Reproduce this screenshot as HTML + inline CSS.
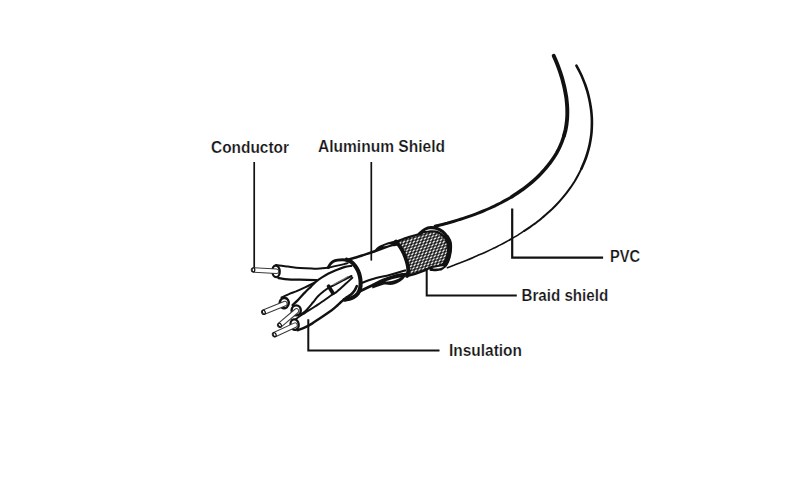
<!DOCTYPE html>
<html><head><meta charset="utf-8"><style>
html,body{margin:0;padding:0;background:#fff;}
svg{display:block;}
text{font-family:"Liberation Sans",sans-serif;font-weight:bold;font-size:15.6px;fill:#141414;stroke:#fff;stroke-width:0.2px;}
</style></head><body>
<svg width="800" height="480" viewBox="0 0 800 480">
<rect width="800" height="480" fill="#fff"/>
<defs>
<pattern id="braid" patternUnits="userSpaceOnUse" width="10" height="10" patternTransform="matrix(0.375,-0.11,-0.13,0.33,0,0)">
<rect width="10" height="10" fill="#141414"/>
<circle cx="5" cy="5" r="3.6" fill="#e8e8e8"/>
</pattern>
</defs>
<path d="M553.7,55.7C554.1,56.6 555.3,59.4 556.1,61.3C556.9,63.2 557.7,65.2 558.4,67.2C559.1,69.1 559.8,71.1 560.5,73.1C561.1,75.2 561.8,77.2 562.4,79.3C562.9,81.3 563.5,83.4 564,85.5C564.5,87.6 564.9,89.7 565.3,91.8C565.7,93.9 566.1,96 566.4,98.1C566.6,100.3 566.9,102.4 567,104.5C567.2,106.6 567.3,108.8 567.3,110.9C567.4,113 567.3,115.1 567.2,117.2C567.1,119.3 566.9,121.4 566.6,123.5C566.4,125.6 566,127.6 565.6,129.7C565.1,131.7 564.6,133.8 564,135.8C563.4,137.8 562.7,139.7 562,141.7C561.2,143.7 560.4,145.6 559.5,147.5C558.6,149.4 557.6,151.2 556.6,153.1C555.5,154.9 554.4,156.7 553.2,158.4C552.1,160.2 550.8,161.9 549.5,163.6C548.3,165.3 546.9,166.9 545.5,168.5C544.2,170.1 542.7,171.7 541.3,173.2C539.8,174.7 538.4,176.2 536.8,177.7C535.3,179.1 533.8,180.5 532.2,181.9C530.6,183.3 529,184.6 527.3,185.9C525.7,187.2 524,188.5 522.3,189.7C520.6,191 518.8,192.2 517.1,193.3C515.3,194.5 513.6,195.6 511.8,196.7C510,197.8 508.1,198.9 506.3,199.9C504.4,201 502.6,202 500.7,203C498.8,203.9 496.9,204.9 495,205.8C493.1,206.7 491.1,207.6 489.2,208.5C487.3,209.4 485.3,210.2 483.3,211C481.4,211.8 479.4,212.6 477.4,213.4C475.4,214.2 473.4,214.9 471.4,215.6C469.4,216.3 467.4,217 465.4,217.7C463.4,218.4 461.3,219 459.3,219.6C457.3,220.3 455.3,220.9 453.3,221.5C451.2,222.1 449.2,222.6 447.2,223.2C445.2,223.7 443.2,224.3 441.2,224.8C439.1,225.3 436.1,226 435.1,226.3L447.4,267.7C448.5,267.3 451.7,266.1 453.8,265.3C456,264.4 458.1,263.6 460.3,262.8C462.5,261.9 464.6,261.1 466.8,260.2C469,259.3 471.2,258.4 473.3,257.5C475.5,256.5 477.7,255.6 479.9,254.6C482.1,253.7 484.2,252.7 486.4,251.7C488.6,250.7 490.8,249.7 492.9,248.6C495.1,247.6 497.2,246.5 499.4,245.4C501.5,244.3 503.6,243.2 505.8,242C507.9,240.9 510,239.7 512.1,238.5C514.1,237.3 516.2,236.1 518.3,234.8C520.3,233.5 522.3,232.3 524.3,230.9C526.3,229.6 528.3,228.3 530.3,226.9C532.2,225.5 534.2,224.1 536.1,222.7C538,221.2 539.9,219.8 541.7,218.2C543.5,216.7 545.4,215.2 547.1,213.6C548.9,212 550.7,210.4 552.4,208.8C554.1,207.1 555.7,205.4 557.3,203.7C559,202 560.6,200.2 562.1,198.4C563.6,196.6 565.1,194.8 566.6,192.9C568,191 569.4,189.1 570.8,187.2C572.1,185.2 573.4,183.2 574.7,181.2C575.9,179.2 577.1,177.1 578.2,175C579.4,172.9 580.4,170.8 581.4,168.7C582.5,166.5 583.4,164.3 584.3,162.1C585.2,159.9 586,157.7 586.7,155.5C587.4,153.2 588.1,150.9 588.7,148.6C589.3,146.4 589.8,144.1 590.2,141.7C590.7,139.4 591,137.1 591.3,134.7C591.6,132.4 591.7,130 591.8,127.6C591.9,125.3 592,122.9 591.9,120.5C591.9,118.1 591.7,115.8 591.5,113.4C591.3,111 591,108.6 590.6,106.3C590.3,103.9 589.8,101.5 589.3,99.2C588.8,96.9 588.2,94.5 587.6,92.2C586.9,89.9 586.2,87.6 585.4,85.3C584.6,83 583.7,80.8 582.8,78.6C581.9,76.3 580.9,74.1 579.8,72C578.7,69.8 577,66.7 576.4,65.6Z" fill="#fff"/>
<path d="M553.7,55.7C554.1,56.6 555.3,59.4 556.1,61.3C556.9,63.2 557.7,65.2 558.4,67.2C559.1,69.1 559.8,71.1 560.5,73.1C561.1,75.2 561.8,77.2 562.4,79.3C562.9,81.3 563.5,83.4 564,85.5C564.5,87.6 564.9,89.7 565.3,91.8C565.7,93.9 566.1,96 566.4,98.1C566.6,100.3 566.9,102.4 567,104.5C567.2,106.6 567.3,108.8 567.3,110.9C567.4,113 567.3,115.1 567.2,117.2C567.1,119.3 566.9,121.4 566.6,123.5C566.4,125.6 566,127.6 565.6,129.7C565.1,131.7 564.3,134.7 564,135.8" fill="none" stroke="#111" stroke-width="3.9" stroke-linecap="round"/>
<path d="M564,135.8C563.7,136.8 562.7,139.7 562,141.7C561.2,143.7 560.4,145.6 559.5,147.5C558.6,149.4 557.6,151.2 556.6,153.1C555.5,154.9 554.4,156.7 553.2,158.4C552.1,160.2 550.8,161.9 549.5,163.6C548.3,165.3 546.9,166.9 545.5,168.5C544.2,170.1 542.7,171.7 541.3,173.2C539.8,174.7 538.4,176.2 536.8,177.7C535.3,179.1 533.8,180.5 532.2,181.9C530.6,183.3 529,184.6 527.3,185.9C525.7,187.2 524,188.5 522.3,189.7C520.6,191 518.8,192.2 517.1,193.3C515.3,194.5 512.6,196.2 511.8,196.7" fill="none" stroke="#111" stroke-width="3.5" stroke-linecap="round"/>
<path d="M511.8,196.7C510.8,197.3 508.1,198.9 506.3,199.9C504.4,201 502.6,202 500.7,203C498.8,203.9 496.9,204.9 495,205.8C493.1,206.7 491.1,207.6 489.2,208.5C487.3,209.4 485.3,210.2 483.3,211C481.4,211.8 479.4,212.6 477.4,213.4C475.4,214.2 473.4,214.9 471.4,215.6C469.4,216.3 467.4,217 465.4,217.7C463.4,218.4 461.3,219 459.3,219.6C457.3,220.3 455.3,220.9 453.3,221.5C451.2,222.1 449.2,222.6 447.2,223.2C445.2,223.7 443.2,224.3 441.2,224.8C439.1,225.3 436.1,226 435.1,226.3" fill="none" stroke="#111" stroke-width="3.0" stroke-linecap="round"/>
<path d="M576.4,65.6C577,66.7 578.7,69.8 579.8,72C580.9,74.1 581.9,76.3 582.8,78.6C583.7,80.8 584.6,83 585.4,85.3C586.2,87.6 586.9,89.9 587.6,92.2C588.2,94.5 588.8,96.9 589.3,99.2C589.8,101.5 590.3,103.9 590.6,106.3C591,108.6 591.3,111 591.5,113.4C591.7,115.8 591.9,118.1 591.9,120.5C592,122.9 591.9,125.3 591.8,127.6C591.7,130 591.6,132.4 591.3,134.7C591,137.1 590.7,139.4 590.2,141.7C589.8,144.1 589.3,146.4 588.7,148.6C588.1,150.9 587.4,153.2 586.7,155.5C586,157.7 585.2,159.9 584.3,162.1C583.4,164.3 581.9,167.6 581.4,168.7" fill="none" stroke="#111" stroke-width="2.6" stroke-linecap="round"/>
<path d="M581.4,168.7C580.9,169.7 579.4,172.9 578.2,175C577.1,177.1 575.9,179.2 574.7,181.2C573.4,183.2 572.1,185.2 570.8,187.2C569.4,189.1 568,191 566.6,192.9C565.1,194.8 563.6,196.6 562.1,198.4C560.6,200.2 559,202 557.3,203.7C555.7,205.4 554.1,207.1 552.4,208.8C550.7,210.4 548.9,212 547.1,213.6C545.4,215.2 543.5,216.7 541.7,218.2C539.9,219.8 538,221.2 536.1,222.7C534.2,224.1 532.2,225.5 530.3,226.9C528.3,228.3 525.3,230.3 524.3,230.9" fill="none" stroke="#111" stroke-width="2.0" stroke-linecap="round"/>
<path d="M524.3,230.9C523.3,231.6 520.3,233.5 518.3,234.8C516.2,236.1 514.1,237.3 512.1,238.5C510,239.7 507.9,240.9 505.8,242C503.6,243.2 501.5,244.3 499.4,245.4C497.2,246.5 495.1,247.6 492.9,248.6C490.8,249.7 488.6,250.7 486.4,251.7C484.2,252.7 482.1,253.7 479.9,254.6C477.7,255.6 475.5,256.5 473.3,257.5C471.2,258.4 469,259.3 466.8,260.2C464.6,261.1 462.5,261.9 460.3,262.8C458.1,263.6 456,264.4 453.8,265.3C451.7,266.1 448.5,267.3 447.4,267.7" fill="none" stroke="#111" stroke-width="1.6" stroke-linecap="round"/>
<path d="M254.2,162V268" stroke="#111" stroke-width="1.7" fill="none"/>
<path d="M512.2,208.6V257.6H603.1" stroke="#111" stroke-width="2.2" fill="none"/>
<path d="M347.7,259.8 L375.4,251 L398.7,242.3 L407,262 L403,275 L360.8,286 L356,296Z" fill="#fff"/>
<path d="M347.7,259.8C350.1,259.1 357.4,257 362,255.5C366.6,254 369.3,253.2 375.4,251C381.5,248.8 394.8,243.8 398.7,242.3" fill="none" stroke="#111" stroke-width="2.4"/>
<path d="M360.8,283.4C362.7,282.7 367.2,280.6 372,279.2C376.8,277.8 384.8,276.2 389.5,275C394.2,273.8 397.2,272.8 400,272C402.8,271.2 405,270.5 406,270.2" fill="none" stroke="#111" stroke-width="2.1"/>
<path d="M359.4,291.6C361.5,290.6 367.9,287.4 372,285.4C376.1,283.4 379.8,281.4 383.7,279.8C387.6,278.2 392.2,276.7 395.3,275.8C398.4,274.9 400.1,274.7 402,274.4C403.9,274.1 406.2,274.1 407,274" fill="none" stroke="#111" stroke-width="2.8"/>
<path d="M372,286 C378,283 383,280 389,278.3 C395,276.6 400,275.2 405,274.5 L405.5,276 C403.5,280 398,283.5 392.4,284.8 C389,285.3 387,284 384,284.6 C380,285.6 376,287.5 372.5,288.6Z" fill="#111"/>
<path d="M385,281.6 C389,280 394,278.4 401,277.2 C398,279.3 393,280.8 388,281.6Z" fill="#fff"/>
<path d="M374,251.8 C375.5,249 377,247 380,245.6 C385,243.4 390,241.6 395,240.6 L399.5,239.9 L399,244.5 C397,246 394.5,246.3 392.5,246.3 C389,246.6 385,247.6 382.5,248.5 C379,249.7 376.5,251 374.5,252.8Z" fill="#111"/>
<path d="M383,246.4 C385.5,245.3 388.5,244.4 391.5,244.1 C389.5,245.1 386.5,246 383,246.4Z" fill="#fff"/>
<path d="M419.5,233.8C420.8,231.2 423.1,230.3 425,229.3C426.9,228.3 428.9,227.8 430.9,227.7C432.9,227.6 435.1,227.8 437,228.5C438.9,229.2 440.8,230.2 442.5,231.6C444.2,233 445.8,235.1 447,236.8C448.2,238.5 449.1,240.2 449.6,242C450.1,243.8 450.2,245.4 450.1,247.5C450.1,249.6 449.8,252.2 449.3,254.5C448.9,256.8 448.2,259.1 447.4,261C446.6,262.9 445.7,264.5 444.6,265.7C443.5,266.9 442.2,267.7 440.8,268.4C439.4,269.1 437.6,269.5 436,269.7C434.4,269.9 433,269.7 431,269.4C429,269.1 426,269.9 424,268C422,266.1 420.1,261.8 419,258C417.9,254.2 417.4,249 417.5,245C417.6,241 418.2,236.4 419.5,233.8Z" fill="#fff"/>
<path d="M396,241.6C397.8,241 404.6,238.5 408,237.4C411.4,236.3 416.1,235 418.6,234.2C421.1,233.4 422.8,232.4 424.5,232C426.2,231.6 428.3,231.4 430,231.3C431.7,231.2 434.3,231.2 436,231.6C437.7,232 440,233.1 441.5,234.3C443,235.5 445,237.6 446,239.6C447,241.6 448,245.2 448.2,247.5C448.4,249.8 447.8,253 447.4,255C446.9,257 446.1,259.5 445.2,261C444.3,262.5 442.8,264.2 441.5,265C440.2,265.8 438,266.3 436.5,266.6C435,266.9 433.4,266.4 431.5,267C429.6,267.6 426.3,269.8 424,270.8C421.7,271.8 418.6,272.8 416,273.6C413.4,274.4 408.4,275.6 407,276C407.2,275.2 408.1,273.1 408.2,271.5C408.3,269.9 408.2,268.3 407.9,266.5C407.6,264.7 407.1,262.7 406.4,260.5C405.7,258.3 404.8,255.8 403.8,253.5C402.8,251.2 401.5,249 400.2,247C398.9,245 396.7,242.5 396,241.6Z" fill="url(#braid)" stroke="#111" stroke-width="2.2" stroke-linejoin="round"/>
<path d="M407,276C407.2,275.2 408.1,273.1 408.2,271.5C408.3,269.9 408.2,268.3 407.9,266.5C407.6,264.7 407.1,262.7 406.4,260.5C405.7,258.3 404.8,255.8 403.8,253.5C402.8,251.2 401.5,249 400.2,247C398.9,245 396.7,242.5 396,241.6" fill="none" stroke="#111" stroke-width="3.8" stroke-linecap="round"/>
<path d="M419.5,233.8C420.4,233.1 423.1,230.3 425,229.3C426.9,228.3 428.9,227.8 430.9,227.7C432.9,227.6 435.1,227.8 437,228.5C438.9,229.2 440.8,230.2 442.5,231.6C444.2,233 445.8,235.1 447,236.8C448.2,238.5 449.1,240.2 449.6,242C450.1,243.8 450.2,245.4 450.1,247.5C450.1,249.6 449.8,252.2 449.3,254.5C448.9,256.8 448.2,259.1 447.4,261C446.6,262.9 445.7,264.5 444.6,265.7C443.5,266.9 442.2,267.7 440.8,268.4C439.4,269.1 437.6,269.5 436,269.7C434.4,269.9 431.8,269.4 431,269.4" fill="none" stroke="#111" stroke-width="3.2" stroke-linecap="round"/>
<path d="M447,236.8C447.4,237.7 449.1,240.2 449.6,242C450.1,243.8 450.2,245.4 450.1,247.5C450.1,249.6 449.8,252.2 449.3,254.5C448.9,256.8 448.2,259.1 447.4,261C446.6,262.9 445.7,264.5 444.6,265.7C443.5,266.9 441.4,267.9 440.8,268.4" fill="none" stroke="#111" stroke-width="4" stroke-linecap="round"/>
<path d="M424.8,230.9 C426.5,229.8 429,229.4 431.5,229.5 C429.5,230.4 427,230.9 424.8,230.9Z" fill="#fff"/>
<path d="M432.4,268.3 C435.5,267.3 439.5,266.4 444,266.2 C442,267.9 437.5,269.2 432.4,268.3Z" fill="#fff"/>
<path d="M279,265.5 L300,268 L316.6,268.5 L330,265.5 L348,262 L356,270 L350,300 L340,304 L320,317 L299.4,328.3 L291,320 L281.5,297.5 L279,278Z" fill="#fff"/>
<path d="M276.2,265.1C278.2,265.4 284,266.1 288,266.6C292,267.1 296,267.7 300,268C304,268.3 308.7,268.5 312,268.6C315.3,268.7 317.2,268.6 320,268.4C322.8,268.2 327.5,267.7 329,267.6" fill="none" stroke="#111" stroke-width="2.0" stroke-linecap="round" stroke-linejoin="round"/>
<path d="M278.4,278C280,278.2 284.4,279 288,279.3C291.6,279.6 295.2,279.5 300,279.6C304.8,279.8 313.8,280.1 316.6,280.2" fill="none" stroke="#111" stroke-width="2.3" stroke-linecap="round" stroke-linejoin="round"/>
<path d="M281.5,297.5C282.9,296.9 287.6,294.6 290,293.6C292.4,292.6 293.5,292.4 296,291.4C298.5,290.3 302,288.7 305,287.3C308,285.9 312.5,283.7 314,283" fill="none" stroke="#111" stroke-width="2.0" stroke-linecap="round" stroke-linejoin="round"/>
<path d="M292.5,305C293.4,304.2 295.8,302.2 297.9,300.1C300,298 302.8,294.6 305,292.4C307.2,290.1 309.2,288.4 311,286.6C312.8,284.8 314.2,283.1 316,281.6C317.8,280.1 319.9,278.7 322,277.4C324.1,276.1 325.8,275 328.5,273.6C331.2,272.2 335.8,270.3 338.5,269.2C341.2,268.1 342.8,267.5 345,266.9C347.2,266.3 350.4,266 351.5,265.8" fill="none" stroke="#111" stroke-width="2.2" stroke-linecap="round" stroke-linejoin="round"/>
<path d="M300,314.5C300.8,314 302.9,313.5 305,311.5C307.1,309.5 310.7,305.1 312.9,302.5C315.1,299.9 316.1,298.1 318,296.2C319.9,294.3 322.1,292.5 324,291C325.9,289.5 327.5,288.4 329.5,287.3C331.5,286.2 333.6,285.4 336,284.1C338.4,282.9 341.5,281.2 344.1,279.8C346.7,278.4 350.3,276.6 351.5,276" fill="none" stroke="#111" stroke-width="2.0" stroke-linecap="round" stroke-linejoin="round"/>
<path d="M295.5,319.5C296.2,318.9 298.4,317.1 300,316C301.6,314.9 302.5,314.4 305,312.8C307.5,311.2 311.7,308.7 315,306.5C318.3,304.3 322.1,301.8 325,299.8C327.9,297.8 330.7,295.6 332.5,294.4C334.3,293.2 334.7,293.4 336,292.4C337.3,291.4 338.9,289.8 340.5,288.4C342.1,287 343.4,285.9 345.4,284.1C347.4,282.3 351.1,278.9 352.3,277.8" fill="none" stroke="#111" stroke-width="2.0" stroke-linecap="round" stroke-linejoin="round"/>
<path d="M297.5,330.2C298.8,329.7 302.6,328.5 305,327.4C307.4,326.3 309.5,325.1 312,323.6C314.5,322.1 316.7,320.4 320,318.2C323.3,316 329,312.1 331.7,310.2C334.4,308.3 334.4,308 336,306.6C337.6,305.2 339.3,303.5 341,302C342.7,300.5 345.5,298.3 346.4,297.6" fill="none" stroke="#111" stroke-width="2.4" stroke-linecap="round" stroke-linejoin="round"/>
<path d="M333.5,284.6C334.6,284 337.6,282.3 340,281C342.4,279.7 346.7,277.3 348,276.6" fill="none" stroke="#777" stroke-width="1.1" stroke-linecap="round" stroke-linejoin="round"/>
<path d="M328.6,286.3 L333,293.2" stroke="#111" stroke-width="3.8" stroke-linecap="round"/>
<ellipse cx="276" cy="271.3" rx="3.7" ry="5.8" transform="rotate(-3 276 271.3)" fill="#fff" stroke="#111" stroke-width="2.3"/>
<path d="M253.4,269.9L276.4,271.3" stroke="#3a3a3a" stroke-width="5.5" stroke-linecap="round"/>
<path d="M253.4,269.9L276.4,271.3" stroke="#fff" stroke-width="3.5" stroke-linecap="round"/>
<ellipse cx="253.4" cy="269.9" rx="1.4" ry="2.0" transform="rotate(3 253.4 269.9)" fill="#fff" stroke="#111" stroke-width="1.3"/>
<ellipse cx="284.2" cy="303.1" rx="4.5" ry="5.2" transform="rotate(10 284.2 303.1)" fill="#fff" stroke="#111" stroke-width="2.5"/>
<path d="M263.8,312.2L284.8,303.6" stroke="#3a3a3a" stroke-width="5.6" stroke-linecap="round"/>
<path d="M263.8,312.2L284.8,303.6" stroke="#fff" stroke-width="3.6" stroke-linecap="round"/>
<ellipse cx="263.8" cy="312.2" rx="1.4" ry="2.1" transform="rotate(-22 263.8 312.2)" fill="#fff" stroke="#111" stroke-width="1.3"/>
<ellipse cx="296.2" cy="310.4" rx="4.6" ry="5.0" transform="rotate(0 296.2 310.4)" fill="#fff" stroke="#111" stroke-width="2.4"/>
<path d="M279.8,325.1L296.4,311" stroke="#3a3a3a" stroke-width="5.6" stroke-linecap="round"/>
<path d="M279.8,325.1L296.4,311" stroke="#fff" stroke-width="3.6" stroke-linecap="round"/>
<ellipse cx="279.8" cy="325.1" rx="1.4" ry="2.1" transform="rotate(-40 279.8 325.1)" fill="#fff" stroke="#111" stroke-width="1.3"/>
<ellipse cx="294.6" cy="324.6" rx="4.1" ry="5.3" transform="rotate(-10 294.6 324.6)" fill="#fff" stroke="#111" stroke-width="2.3"/>
<path d="M274.6,334.6L295,325.2" stroke="#3a3a3a" stroke-width="5.6" stroke-linecap="round"/>
<path d="M274.6,334.6L295,325.2" stroke="#fff" stroke-width="3.6" stroke-linecap="round"/>
<ellipse cx="274.6" cy="334.6" rx="1.4" ry="2.1" transform="rotate(-25 274.6 334.6)" fill="#fff" stroke="#111" stroke-width="1.3"/>
<path d="M346.6,259.7C347.4,260.1 350.2,261.2 351.6,262.2C353,263.2 354.1,264.5 355.2,265.9C356.3,267.3 357.2,268.9 358,270.6C358.8,272.3 359.4,274.3 359.8,276.2C360.2,278.1 360.6,279.9 360.6,282C360.7,284.1 360.6,286.6 360.1,288.5C359.6,290.4 358.9,292.1 357.8,293.6C356.7,295.1 354.9,296.4 353.3,297.3C351.7,298.2 349.5,298.7 348,299.1C346.5,299.5 345.1,299.6 344.5,299.7" fill="none" stroke="#111" stroke-width="4.1" stroke-linecap="round"/>
<path d="M346.4,297.6C347.2,297.1 349.6,295.8 351,294.6C352.4,293.4 353.6,292 354.6,290.6C355.6,289.2 356.4,286.9 356.8,286.2" fill="none" stroke="#111" stroke-width="2.6" stroke-linecap="round" stroke-linejoin="round"/>
<path d="M328.3,267.6C328.6,267 329.5,264.9 330.4,263.9C331.3,262.8 332.3,261.9 333.5,261.3C334.7,260.7 336,260.4 337.5,260.1C339,259.9 340.8,259.8 342.5,259.8C344.2,259.8 346.7,260.1 347.5,260.2" fill="none" stroke="#111" stroke-width="2.9" stroke-linecap="round"/>
<path d="M330,267.4C330.8,267.2 333.2,266.6 335,266.2C336.8,265.8 338.9,265.3 341,264.8C343.1,264.3 346.6,263.5 347.7,263.2" fill="none" stroke="#111" stroke-width="1.8" stroke-linecap="round" stroke-linejoin="round"/>
<path d="M308.3,319.2V350.4H439.5" stroke="#111" stroke-width="2.0" fill="none"/>
<path d="M371.3,162V260.6" stroke="#111" stroke-width="1.7" fill="none"/>
<path d="M426.7,268V295.6H516.8" stroke="#111" stroke-width="2.0" fill="none"/>
<text opacity="0.995" x="211" y="152.5" textLength="78" lengthAdjust="spacingAndGlyphs">Conductor</text>
<text opacity="0.995" x="318" y="152.4" textLength="127" lengthAdjust="spacingAndGlyphs">Aluminum Shield</text>
<text opacity="0.995" x="610" y="262.1" textLength="30" lengthAdjust="spacingAndGlyphs">PVC</text>
<text opacity="0.995" x="521.5" y="300.9" textLength="86.7" lengthAdjust="spacingAndGlyphs">Braid shield</text>
<text opacity="0.995" x="449" y="355.8" textLength="73" lengthAdjust="spacingAndGlyphs">Insulation</text>
</svg>
</body></html>
